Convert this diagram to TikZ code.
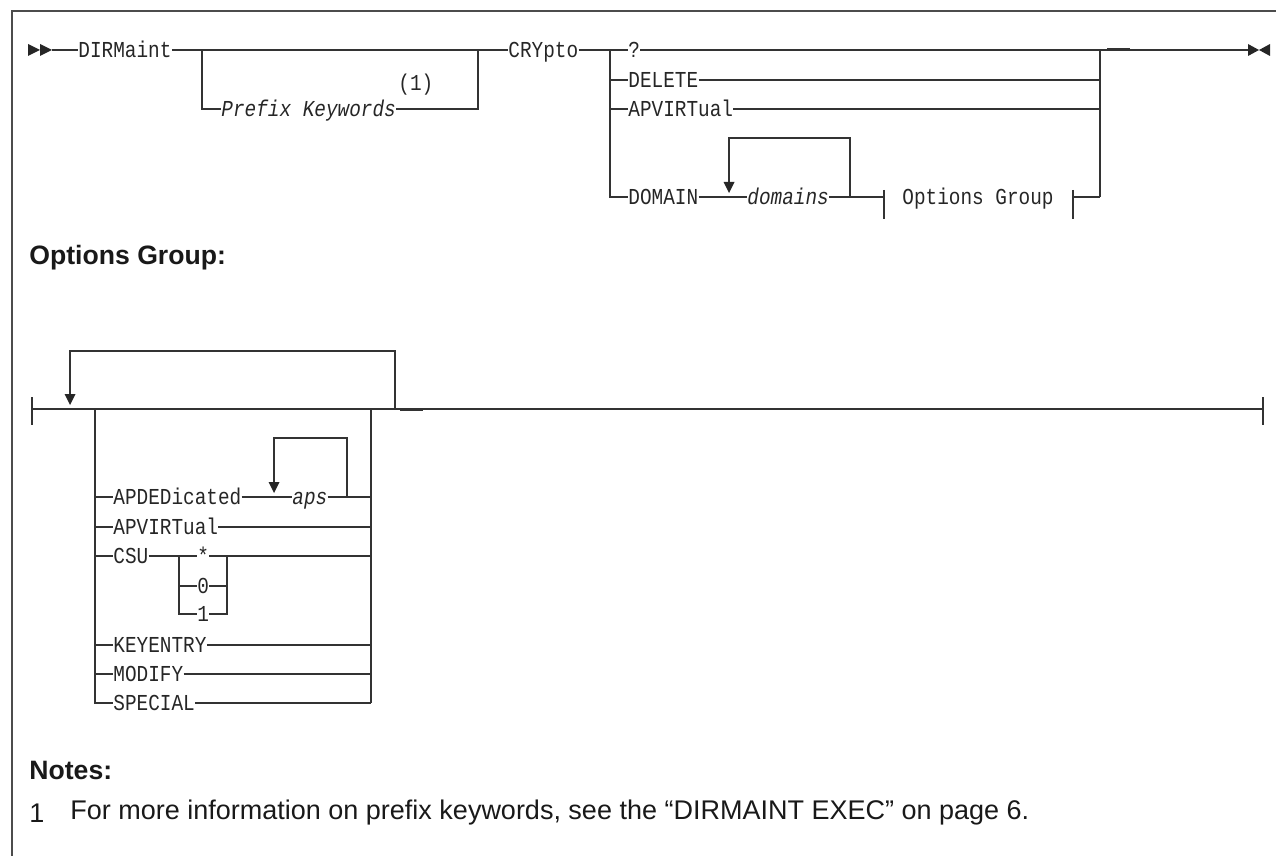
\documentclass[tikz,border=0pt]{standalone}
\usepackage{fontspec}
\setmainfont{Liberation Sans}
\newfontfamily\railmono[FakeStretch=0.85]{Liberation Mono}
\usetikzlibrary{positioning}

\tikzset{
  rail/.style={line width=0.65pt, draw=black!80},
  blip/.style={line width=1.1pt, draw=black!80},
  kw/.style={font=\railmono\fontsize{11.4}{13}\selectfont, text=black!85, inner sep=0pt,
    text height=7.8pt, text depth=0pt, anchor=west},
  var/.style={kw, font=\railmono\itshape\fontsize{11.4}{13}\selectfont},
  head/.style={font=\bfseries\fontsize{13.3}{15}\selectfont, text=black!90, inner sep=0pt, anchor=west},
  note/.style={font=\fontsize{13.5}{15}\selectfont, text=black!90, inner sep=0pt, anchor=west},
  reptip/.pic={\fill[black!85] (-5.5,-11) -- (5.5,-11) -- (0,0) -- cycle;},
  railstart/.pic={\fill[black!85] (0,-6) -- (12,0) -- (0,6) -- cycle (12,-6) -- (24,0) -- (12,6) -- cycle;},
  railend/.pic={\fill[black!85] (0,-6) -- (11,0) -- (0,6) -- cycle (22,-6) -- (11,0) -- (22,6) -- cycle;},
}

\begin{document}
\begin{tikzpicture}[x=0.5pt, y=-0.5pt]
\useasboundingbox (0,0) rectangle (1276,856);
\draw[line width=0.65pt, draw=black!70] (12,856) -- (12,11) -- (1276,11);

\pic at (28,50) {railstart};
\coordinate (st) at (52,50);
\node[kw] (dirm) at (78,50) {DIRMaint};
\node[var] (prefix) at (221,109) {Prefix Keywords};
\node[kw] (fnref) at (398,83) {(1)};
\node[kw] (crypto) at (508,50) {CRYpto};
\node[kw] (qmark) at (628,50) {?};
\node[kw] (delete) at (628,80) {DELETE};
\node[kw] (apvirt) at (628,109) {APVIRTual};
\node[kw] (domain) at (628,197) {DOMAIN};
\node[var] (domains) at (747,197) {domains};
\node[kw] (optref) at (902,197) {Options Group};
\coordinate (ja) at (202,50);
\coordinate (jb) at (478,50);
\coordinate (jc) at (610,50);
\coordinate (jd) at (1100,50);
\coordinate (je) at (1248,50);
\coordinate (fb1) at (884,197);
\coordinate (fb2) at (1073,197);

\draw[rail] (st) -- (dirm.west) (dirm.east) -- (crypto.west);
\draw[rail] (ja) |- (prefix.west) (prefix.east) -| (jb);
\draw[rail] (crypto.east) -- (jc) |- (domain.west);
\draw[rail] (qmark.east) -- (jd) -- (je);
\draw[rail] (jc) -- (qmark.west);
\foreach \n in {delete,apvirt} {
  \draw[rail] (jc |- \n) -- (\n.west) (\n.east) -- (jd |- \n);
}
\draw[rail] (jd) -- (jd |- domain);
\draw[blip] (1107,49) -- (1130,49);
\pic at (je) {railend};

\draw[rail] (domain.east) -- (domains.west) (domains.east) -- (fb1);
\draw[rail] (850,197) |- (729,138) -- (729,184);
\pic at (729,193) {reptip};
\draw[rail] (884,190) -- (884,219) (1073,190) -- (1073,219);
\draw[rail] (fb2) -- (jd |- domain);

\node[head] (optshead) at (29,258) {Options Group:};

\coordinate (gs) at (32,409);
\coordinate (ge) at (1263,409);
\coordinate (gl) at (95,409);
\coordinate (gr) at (371,409);
\draw[rail] (gs) -- (ge);
\draw[rail] (32,397) -- (32,425) (1263,397) -- (1263,425);
\draw[rail] (395,409) |- (70,351) -- (70,396);
\pic at (70,405) {reptip};
\draw[blip] (41,409) -- (47,409) (400,410) -- (423,410);

\node[kw] (apded) at (113,497) {APDEDicated};
\node[var] (aps) at (292,497) {aps};
\node[kw] (apvirtb) at (113,527) {APVIRTual};
\node[kw] (csu) at (113,556) {CSU};
\node[kw] (star) at (197,556) {*};
\node[kw] (zero) at (197,586) {0};
\node[kw] (one) at (197,614) {1};
\node[kw] (keyentry) at (113,645) {KEYENTRY};
\node[kw] (modify) at (113,674) {MODIFY};
\node[kw] (special) at (113,703) {SPECIAL};

\draw[rail] (gl) |- (special.west);
\draw[rail] (gr) -- (gr |- special);
\foreach \n in {apded,apvirtb,csu,keyentry,modify} {
  \draw[rail] (gl |- \n) -- (\n.west);
}
\foreach \n in {apvirtb,keyentry,modify,special} {
  \draw[rail] (\n.east) -- (gr |- \n);
}
\draw[rail] (apded.east) -- (aps.west) (aps.east) -- (gr |- aps);
\draw[rail] (347,497) |- (274,438) -- (274,484);
\pic at (274,493) {reptip};
\draw[rail] (csu.east) -- (179,556) |- (one.west) (179,586) -- (zero.west) (179,556) -- (star.west);
\draw[rail] (one.east) -| (227,556) (zero.east) -- (227,586) (star.east) -- (gr |- star);

\node[head] (noteshead) at (29,770) {Notes:};
\node[note] (notenum) at (29,813) {1};
\node[note] (notetext) at (70,813) {For more information on prefix keywords, see the “DIRMAINT EXEC” on page 6.};
\end{tikzpicture}
\end{document}
